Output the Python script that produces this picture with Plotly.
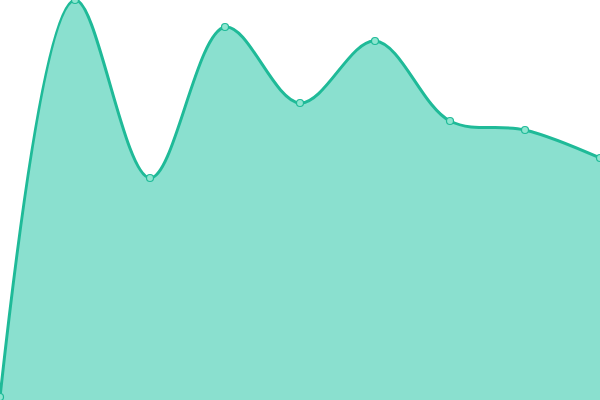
import plotly.graph_objects as go

x_values = [0, 1, 2, 3, 4, 5, 6, 7, 8]
y_values = [3, 400, 222, 373, 297, 359, 279, 270, 242]

line_color = '#1fba98'
fill_color = '#8ae0cf'

fig = go.Figure()
fig.add_trace(go.Scatter(x=x_values, y=y_values,
                         mode='lines+markers',
                         line=dict(color=line_color, width=3, shape='spline', smoothing=1.0),
                         fill='tozeroy',
                         fillcolor=fill_color,
                         marker=dict(size=7, color='#8ee6d0', line=dict(color=line_color, width=1.2)),
                         cliponaxis=False,
                         hoverinfo='x+y'))

fig.update_layout(
    width=600, height=400,
    margin=dict(l=0, r=0, t=0, b=0),
    paper_bgcolor='white',
    plot_bgcolor='white',
    showlegend=False,
    xaxis=dict(range=[0, 8], visible=False, showgrid=False, zeroline=False),
    yaxis=dict(range=[0, 400], visible=False, showgrid=False, zeroline=False),
)

# page has a default 8px body margin, drop it so the plot sits at the corner
fig.write_html("out.html", config={'displayModeBar': False},
               post_script="document.body.style.margin='0';")
